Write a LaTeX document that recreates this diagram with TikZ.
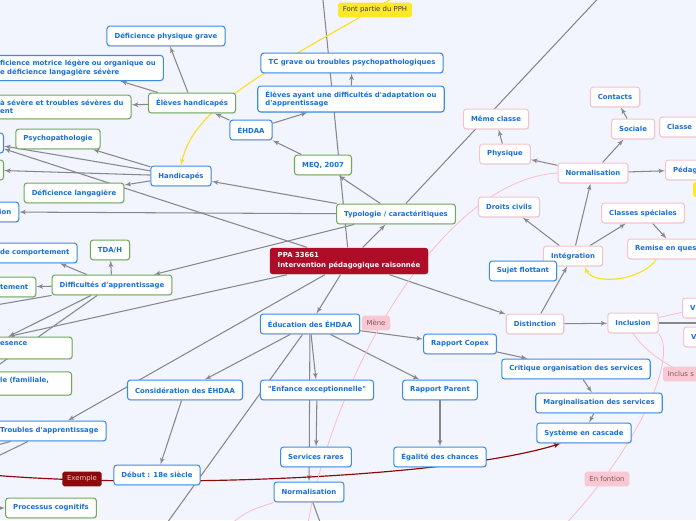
\documentclass[tikz,border=0pt]{standalone}
\usepackage{fontspec}
\setsansfont{DejaVu Sans}
\usepackage{tikz}
\usetikzlibrary{arrows}
\usetikzlibrary{shadows}
\pgfdeclarelayer{back}
\pgfdeclarelayer{links}
\pgfsetlayers{back,links,main}
\definecolor{mapbg}{RGB}{242,245,253}
\definecolor{topictext}{RGB}{25,110,215}
\definecolor{blueline}{RGB}{60,140,230}
\definecolor{greenline}{RGB}{110,170,90}
\definecolor{pinkline}{RGB}{245,195,205}
\definecolor{linkgray}{RGB}{135,135,140}
\definecolor{rootred}{RGB}{175,12,40}
\definecolor{yellowfill}{RGB}{253,232,40}
\definecolor{yellowcurve}{RGB}{250,225,40}
\definecolor{pinktagfill}{RGB}{250,200,210}
\definecolor{pinktagtext}{RGB}{120,90,95}
\definecolor{pinkcurve}{RGB}{250,190,205}
\definecolor{darkredline}{RGB}{140,10,10}
\definecolor{exempletext}{RGB}{240,200,200}

\begin{document}
\begin{tikzpicture}[x=0.03cm, y=-0.03cm]

\tikzset{topic/.style = {shape=rectangle, draw, fill=white, rounded corners=2.5pt, line width=0.9pt, text=topictext,
  font=\sffamily\bfseries\fontsize{5.9}{7}\selectfont, inner xsep=6.5pt, inner ysep=4.2pt, minimum height=17pt, align=left,
  drop shadow={shadow xshift=0.5pt, shadow yshift=-0.6pt, opacity=0.2}}}
\tikzset{bluetopic/.style = {topic, draw=blueline}}
\tikzset{greentopic/.style = {topic, draw=greenline}}
\tikzset{pinktopic/.style = {topic, draw=pinkline}}
\tikzset{roottopic/.style = {topic, draw=none, fill=rootred, text=white, font=\sffamily\bfseries\fontsize{5.9}{8.5}\selectfont, inner xsep=6.8pt}}
\tikzset{tag/.style = {shape=rectangle, rounded corners=1.5pt, font=\sffamily\fontsize{5.9}{7}\selectfont, inner xsep=4pt, minimum height=12.5pt, align=left}}
\tikzset{pinktag/.style = {tag, fill=pinktagfill, text=pinktagtext}}
\tikzset{yellowtag/.style = {tag, fill=yellowfill, text=black!75}}
\tikzset{redtag/.style = {tag, fill=darkredline, text=exempletext}}
\tikzset{link/.style = {->, > = latex', line width=0.9pt, draw=linkgray}}
\tikzset{pinklink/.style = {line width=0.7pt, draw=pinkcurve}}
\tikzset{yellowlink/.style = {->, > = latex', line width=1pt, draw=yellowcurve}}
\tikzset{redlink/.style = {->, > = latex', line width=1pt, draw=darkredline}}

\useasboundingbox (0,0) rectangle (696,520);
\begin{pgfonlayer}{back}
\fill[mapbg] (0,0) rectangle (696,520);
\end{pgfonlayer}

% vertices
\node[bluetopic] (n-physgrave) at (166,36) {Déficience physique grave};
\node[bluetopic, anchor=west] (n-motrice) at (-8,68) {ficience motrice légère ou organique ou\\e déficience langagière sévère};
\node[greentopic, anchor=west] (n-severe) at (-8,107) {à sévère et troubles sévères du\\ent};
\node[greentopic] (n-eleveshand) at (192,103) {Élèves handicapés};
\node[greentopic] (n-psycho) at (58,139) {Psychopathologie};
\node[bluetopic, anchor=east, minimum width=30pt] (n-cutblue) at (4,143) {};
\node[greentopic, anchor=east, minimum width=30pt] (n-cutgreen) at (4,170) {};
\node[bluetopic] (n-handicapes) at (181,176) {Handicapés};
\node[greentopic] (n-langagiere) at (74,193) {Déficience langagière};
\node[bluetopic, anchor=west] (n-ion) at (-9,212) {ion};
\node[bluetopic] (n-tcgrave) at (352,63) {TC grave ou troubles psychopathologiques};
\node[bluetopic] (n-difadapt) at (351,99) {Élèves ayant une difficultés d\textquotesingle adaptation ou\\d\textquotesingle apprentissage};
\node[bluetopic] (n-ehdaa) at (251,130) {ÉHDAA};
\node[greentopic] (n-meq) at (323,165) {MEQ, 2007};
\node[yellowtag] (t-pph) at (375,10) {Font partie du PPH};
\node[greentopic] (n-typo) at (396,214) {Typologie / caractéritiques};
\node[roottopic] (n-root) at (349,261) {PPA 33661\\Intervention pédagogique raisonnée};
\node[bluetopic] (n-educ) at (310,324) {Éducation des ÉHDAA};
\node[pinktag] (t-mene) at (376,323) {Mène};
\node[bluetopic] (n-copex) at (460,344) {Rapport Copex};
\node[bluetopic] (n-consid) at (185,390) {Considération des ÉHDAA};
\node[bluetopic] (n-enfance) at (317,390) {\textquotedbl Enfance exceptionnelle\textquotedbl};
\node[bluetopic] (n-parent) at (440,390) {Rapport Parent};
\node[bluetopic] (n-rares) at (316,457) {Services rares};
\node[bluetopic] (n-egalite) at (440,457) {Égalité des chances};
\node[bluetopic] (n-normbas) at (309,492) {Normalisation};
\node[bluetopic] (n-debut) at (157,475) {Début : 18e siècle};
\node[redtag] (t-exemple) at (82,479) {Exemple};
\node[bluetopic, anchor=west] (n-troubles) at (-8,431) {Troubles d\textquotesingle apprentissage};
\node[greentopic] (n-cognitifs) at (51,508) {Processus cognitifs};
\node[greentopic, anchor=west, text width=54.5pt] (n-familiale) at (-8,383.5) {le (familiale,\\\mbox{}};
\node[greentopic, anchor=west, text width=55pt] (n-presence) at (-8,348) {esence\\\mbox{}};
\node[greentopic] (n-difapp) at (112,285) {Difficultés d\textquotesingle apprentissage};
\node[greentopic] (n-tdah) at (110,250) {TDA/H};
\node[bluetopic, anchor=west] (n-comport) at (-8,253) {de comportement};
\node[greentopic, anchor=west] (n-tement) at (-8,287) {tement};
\node[pinktopic] (n-memeclasse) at (496,119) {Même classe};
\node[pinktopic] (n-physique) at (505,154) {Physique};
\node[pinktopic] (n-contacts) at (615,97) {Contacts};
\node[pinktopic] (n-sociale) at (633,129) {Sociale};
\node[pinktopic, anchor=west, text width=40pt] (n-classe) at (659,127) {Classe};
\node[pinktopic] (n-normdroite) at (593,173) {Normalisation};
\node[pinktopic, anchor=west, text width=30pt] (n-pedag) at (665,170) {Pédag};
\node[yellowtag, anchor=west, minimum width=20pt] (t-yellow) at (693,189.5) {};
\node[pinktopic] (n-droits) at (509,207) {Droits civils};
\node[pinktopic] (n-classesspec) at (643,213) {Classes spéciales};
\node[pinktopic, anchor=west, text width=70pt] (n-remise) at (627,249) {Remise en ques};
\node[pinktopic] (n-integration) at (573,256) {Intégration};
\node[bluetopic] (n-sujet) at (523,271) {Sujet flottant};
\node[pinktopic] (n-distinction) at (535,324) {Distinction};
\node[pinktopic] (n-inclusion) at (633,323) {Inclusion};
\node[pinktopic, anchor=west, text width=20pt] (n-vhaut) at (682,308) {V};
\node[pinktopic, anchor=west, text width=20pt] (n-vbas) at (683,337) {V};
\node[pinktag, anchor=west, text width=30pt] (t-inclus) at (663,374) {Inclus s};
\node[bluetopic] (n-critique) at (576,369) {Critique organisation des services};
\node[bluetopic] (n-marginal) at (599,403) {Marginalisation des services};
\node[bluetopic] (n-cascade) at (584,433) {Système en cascade};
\node[pinktag] (t-fontion) at (607,479) {En fontion};

% free ends
\coordinate (c-top1) at (322,-10);
\coordinate (c-top2) at (606,-10);
\coordinate (c-pph) at (415,-15);
\coordinate (c-left1) at (-10,306);
\coordinate (c-left2) at (-10,371);
\coordinate (c-left3) at (-10,460);
\coordinate (c-left4) at (-10,447);
\coordinate (c-left5) at (-12,508);
\coordinate (c-bottom1) at (162,530);
\coordinate (c-bottom2) at (323,530);
\coordinate (c-exemple) at (-20,474);
\coordinate (c-mene) at (306,535);
\coordinate (c-normpink) at (222,532);
\coordinate (c-fontion) at (555,535);
\coordinate (c-inclus) at (712,392);
\coordinate (c-inclright) at (712,323);

%edges
\begin{pgfonlayer}{links}
\draw[link] (n-root) -- (n-typo);
\draw[link] (n-root) -- (n-educ);
\draw[link] (n-root) -- (n-distinction);
\draw[link] (n-root) -- (c-top1);
\draw[link] (n-root) -- (n-cutblue);
\draw[link] (n-root) -- ([xshift=14pt]n-presence.north west);
\draw[link] (n-root) -- (n-troubles);
\draw[link] (n-typo) -- (n-handicapes);
\draw[link] (n-typo) -- (n-ion);
\draw[link] (n-typo) -- (n-difapp);
\draw[link] (n-typo) -- (n-meq);
\draw[link] (n-typo) -- (c-top2);
\draw[link] (n-meq) -- (n-ehdaa);
\draw[link] (n-ehdaa) -- (n-difadapt);
\draw[link] (n-ehdaa) -- (n-eleveshand);
\draw[link] (n-difadapt) -- (n-tcgrave);
\draw[link] (n-eleveshand) -- (n-physgrave);
\draw[link] (n-eleveshand) -- (n-motrice);
\draw[link] (n-eleveshand) -- (n-severe);
\draw[link] (n-handicapes) -- (n-psycho);
\draw[link] (n-handicapes) -- (n-cutblue);
\draw[link] (n-handicapes) -- (n-cutgreen);
\draw[link] (n-handicapes) -- (n-langagiere);
\draw[link] (n-difapp) -- (n-comport);
\draw[link] (n-difapp) -- (n-tdah);
\draw[link] (n-difapp) -- (n-tement);
\draw[link] (n-difapp) -- (c-left1);
\draw[link] (n-difapp) -- ([xshift=14pt]n-presence.north west);
\draw[link] (n-difapp) -- (c-left2);
\draw[link] (n-troubles) -- (c-left3);
\draw[link] (n-troubles) -- (c-left4);
\draw[link] (c-left5) -- (n-cognitifs);
\draw[link] (n-educ) -- (n-copex);
\draw[link] (n-educ) -- (n-parent);
\draw[link] (n-educ) -- (n-consid);
\draw[link] (n-educ) -- (n-enfance);
\draw[link] (n-educ) -- (n-normbas);
\draw[link] (n-educ) -- (c-bottom1);
\draw[link] (n-enfance) -- (n-rares);
\draw[link] (n-parent) -- (n-egalite);
\draw[link] (n-consid) -- (n-debut);
\draw[link] (n-normbas) -- (c-bottom2);
\draw[link] (n-copex) -- (n-critique);
\draw[link] (n-critique) -- (n-marginal);
\draw[link] (n-marginal) -- (n-cascade);
\draw[link] (n-distinction) -- (n-integration);
\draw[link] (n-distinction) -- (n-inclusion);
\draw[link] (n-integration) -- (n-droits);
\draw[link] (n-integration) -- (n-normdroite);
\draw[link] (n-integration) -- (n-classesspec);
\draw[link] (n-classesspec) -- (n-remise);
\draw[link] (n-normdroite) -- (n-physique);
\draw[link] (n-physique) -- (n-memeclasse);
\draw[link] (n-normdroite) -- (n-sociale);
\draw[link] (n-sociale) -- (n-contacts);
\draw[link] (n-normdroite) -- (n-pedag);
\draw[link] (n-inclusion) -- (c-inclright);
\draw[pinklink] (n-inclusion) -- (n-vhaut);
% relations
\draw[yellowlink] (c-pph) .. controls (290,60) and (195,100) .. (n-handicapes.north);
\draw[yellowlink] ([xshift=25pt]n-remise.south west) .. controls (640,282) and (592,285) .. ([xshift=10pt]n-integration.south);
\draw[redlink] (c-exemple) .. controls (150,490) and (450,478) .. ([xshift=-20pt]n-cascade.south);
\draw[pinklink] (c-mene) .. controls (330,380) and (440,180) .. (n-normdroite.west);
\draw[pinklink] (c-normpink) .. controls (245,512) .. (n-normbas.south west);
\draw[pinklink] (c-fontion) .. controls (630,460) and (680,360) .. (n-inclusion.south east);
\draw[pinklink] (n-inclusion.south) .. controls (655,365) and (690,372) .. (c-inclus);
\end{pgfonlayer}
\end{tikzpicture}
\end{document}
